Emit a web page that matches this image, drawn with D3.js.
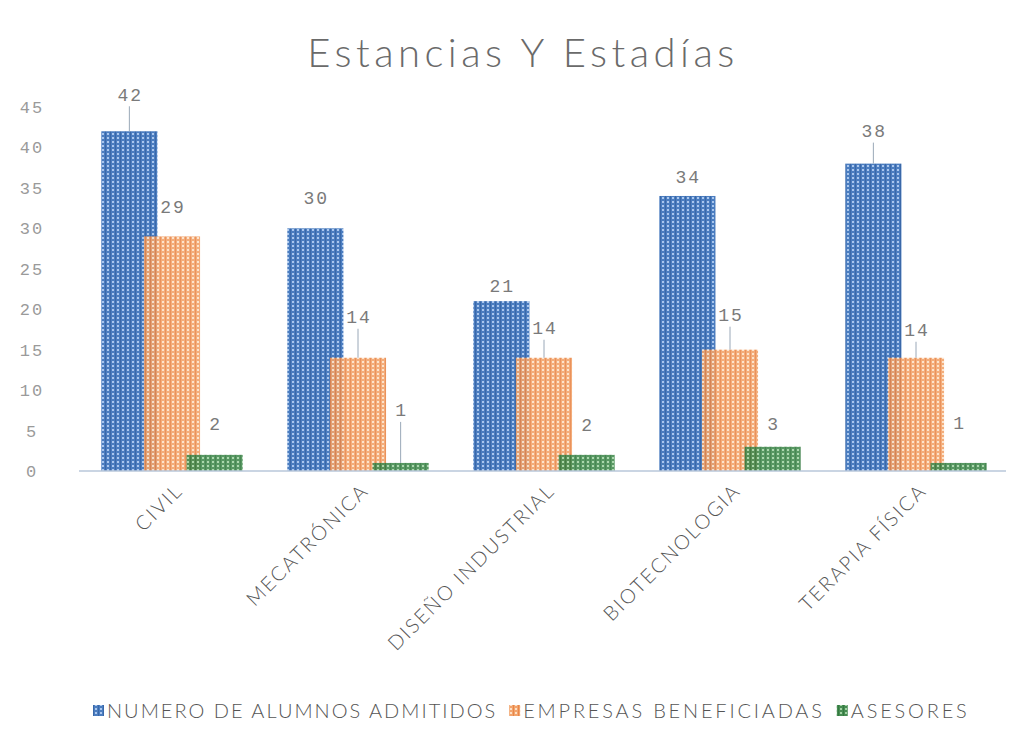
<!DOCTYPE html>
<html>
<head>
<meta charset="utf-8">
<script src="https://cdn.jsdelivr.net/npm/d3@7"></script>
<style>
  body { margin: 0; background: #fff; }
  svg { display: block; }
</style>
</head>
<body>
<div id="chart"></div>
<script>
// chart data
const categories = ['CIVIL', 'MECATRÓNICA', 'DISEÑO INDUSTRIAL', 'BIOTECNOLOGIA', 'TERAPIA FÍSICA'];
const seriesNames = ['NUMERO DE ALUMNOS ADMITIDOS', 'EMPRESAS BENEFICIADAS', 'ASESORES'];
const alumnos = [42, 30, 21, 34, 38];
const empresas = [29, 14, 14, 15, 14];
const asesores = [2, 1, 2, 3, 1];
const yTicks = [0, 5, 10, 15, 20, 25, 30, 35, 40, 45];

// how far each data label sits above its bar, and whether it has a leader line
const labelLift = [
  [37, 31, 15, 19, 33],
  [30, 41, 30, 35, 28],
  [31, 53, 30, 23, 40]
];
const leaders = [
  [true, false, false, false, true],
  [false, true, true, true, true],
  [false, true, false, false, false]
];

const width = 1035, height = 746;
const svg = d3.select('#chart').append('svg')
  .attr('width', width)
  .attr('height', height);

// bar textures (dotted grid like the original print)
const colors = [
  { base: '#4b7dc0', line: '#3a68a8', dot: '#aac7ee' },
  { base: '#f2a46c', line: '#e8864a', dot: '#fde0c6' },
  { base: '#468c52', line: '#347a40', dot: '#a2d3a4' }
];
const defs = svg.append('defs');
colors.forEach(function (c, i) {
  const p = defs.append('pattern')
    .attr('id', 'pat' + i)
    .attr('patternUnits', 'userSpaceOnUse')
    .attr('width', 5).attr('height', 4);
  p.append('rect').attr('width', 5).attr('height', 4).attr('fill', c.base);
  p.append('rect').attr('x', 0).attr('width', 1).attr('height', 4).attr('fill', c.line);
  p.append('rect').attr('x', 2).attr('y', 1).attr('width', 2).attr('height', 2).attr('fill', c.dot);
});

// title
svg.append('text')
  .attr('x', 523).attr('y', 67)
  .attr('text-anchor', 'middle')
  .style('font-family', 'Lato, "Open Sans", sans-serif')
  .style('font-weight', 300)
  .style('font-size', '40px')
  .style('letter-spacing', '4.5px')
  .attr('fill', '#6a6a6a')
  .text('Estancias Y Estadías');

const x0 = d3.scaleBand()
  .domain(categories)
  .range([79, 1009])
  .paddingInner(0.24)
  .paddingOuter(0.12);

const y = d3.scaleLinear()
  .domain([0, 45])
  .range([471, 107]);

const overlap = 0.24;
const barW = x0.bandwidth() / (3 - 2 * overlap);
const barStep = barW * (1 - overlap);

// y axis labels
svg.append('g').selectAll('text')
  .data(yTicks)
  .enter().append('text')
  .attr('x', 32)
  .attr('y', d => y(d))
  .attr('dy', '0.35em')
  .attr('text-anchor', 'middle')
  .style('font-family', '"Liberation Mono", "DejaVu Sans Mono", monospace')
  .style('font-size', '17px')
  .style('letter-spacing', '2px')
  .attr('fill', '#9a9a9a')
  .text(d => d);

// bars
const allSeries = [alumnos, empresas, asesores];
allSeries.forEach(function (vals, s) {
  svg.append('g').selectAll('rect')
    .data(vals)
    .enter().append('rect')
    .attr('x', (d, i) => x0(categories[i]) + s * barStep)
    .attr('width', barW)
    .attr('y', d => y(d))
    .attr('height', d => y(0) - y(d))
    .attr('fill', 'url(#pat' + s + ')')
    .attr('opacity', s === 0 ? 1 : 0.9);
});

// axis line
svg.append('line')
  .attr('x1', 79).attr('x2', 1006)
  .attr('y1', y(0)).attr('y2', y(0))
  .attr('stroke', '#b9c7da')
  .attr('stroke-width', 1.5);

// data labels
allSeries.forEach(function (vals, s) {
  const g = svg.append('g');
  vals.forEach(function (d, i) {
    const cx = x0(categories[i]) + s * barStep + barW / 2;
    const ly = y(d) - labelLift[s][i];
    g.append('text')
      .attr('x', cx + 1).attr('y', ly)
      .attr('dy', '0.35em')
      .attr('text-anchor', 'middle')
      .style('font-family', '"Liberation Mono", "DejaVu Sans Mono", monospace')
      .style('font-size', '18px')
      .style('letter-spacing', '2px')
      .attr('fill', '#7a7a7a')
      .text(d);
    if (leaders[s][i]) {
      g.append('line')
        .attr('x1', cx).attr('x2', cx)
        .attr('y1', ly + 12).attr('y2', y(d))
        .attr('stroke', '#9aa8b8')
        .attr('stroke-width', 1);
    }
  });
});

// category labels, rotated
svg.append('g').selectAll('text')
  .data(categories)
  .enter().append('text')
  .attr('transform', d => 'translate(' + (x0(d) + x0.bandwidth() / 2 + 12) + ',492) rotate(-45)')
  .attr('text-anchor', 'end')
  .style('font-family', 'Lato, "Open Sans", sans-serif')
  .style('font-size', '20px')
  .style('font-weight', 300)
  .style('letter-spacing', '2px')
  .attr('fill', '#555')
  .text(d => d);

// legend
const legend = svg.append('g').attr('transform', 'translate(93,711)');
let lx = 0;
seriesNames.forEach(function (name, s) {
  legend.append('rect')
    .attr('x', lx).attr('y', -6)
    .attr('width', 11).attr('height', 11)
    .attr('fill', 'url(#pat' + s + ')');
  const t = legend.append('text')
    .attr('x', lx + 14).attr('y', 0)
    .attr('dy', '0.35em')
    .style('font-family', 'Lato, "Open Sans", sans-serif')
    .style('font-size', '20px')
    .style('font-weight', 300)
    .style('letter-spacing', s === 0 ? '2px' : '2.8px')
    .attr('fill', '#555')
    .text(name);
  lx += 14 + t.node().getComputedTextLength() + 12;
});
</script>
</body>
</html>
